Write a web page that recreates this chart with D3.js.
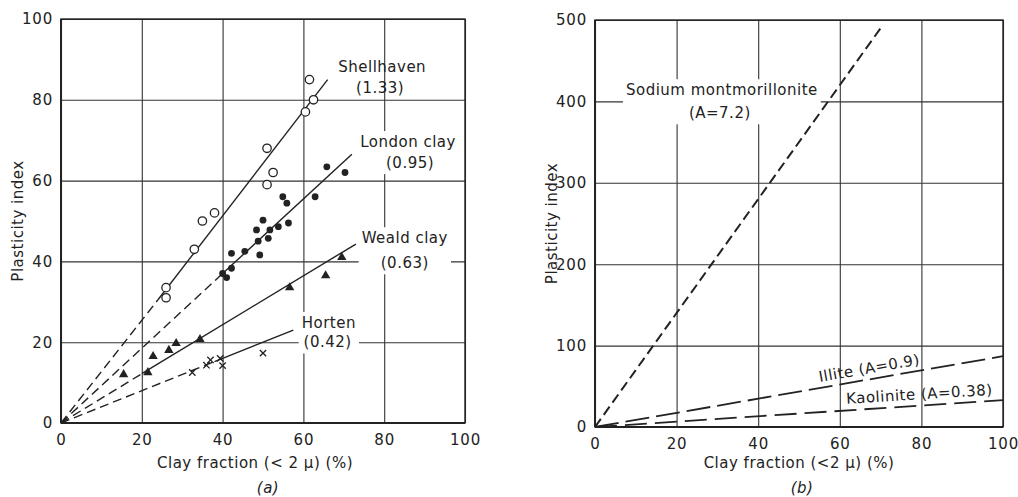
<!DOCTYPE html>
<html><head><meta charset="utf-8">
<script src="https://cdn.jsdelivr.net/npm/d3@7"></script>
<style>
html,body{margin:0;padding:0;background:#fff;}
svg{display:block;}
text{font-family:"DejaVu Sans",sans-serif;fill:#222;letter-spacing:0.5px;}
</style></head>
<body>
<svg id="chart" width="1018" height="497"></svg>
<script>
// ---------- DATA ----------
const gridTicksA = [0,20,40,60,80,100];
const yTicksA = [0,20,40,60,80,100];
const gridTicksB = [0,20,40,60,80,100];
const yTicksB = [0,100,200,300,400,500];

// panel (a) measured points [clay fraction %, plasticity index]
const shellhaven = [[26,31],[26,33.5],[33,43],[35,50],[38,52],[51,59],[52.5,62],[51,68],[60.5,77],[62.5,80],[61.5,85]];
const londonClay = [[40,37],[41,36],[42.2,38.3],[42.2,42],[45.5,42.5],[49.2,41.6],[48.8,45],[51.3,45.7],[48.4,47.8],[51.7,47.8],[53.8,48.6],[56.3,49.5],[50,50.2],[55.9,54.4],[54.9,56],[62.9,56],[65.8,63.4],[70.3,62]];
const wealdClay = [[15.5,12],[21.5,12.5],[22.8,16.5],[26.7,18],[28.5,19.7],[34.4,20.7],[56.6,33.5],[65.5,36.5],[69.5,41]];
const horten = [[32.5,12.5],[36,14.3],[37,15.6],[39.4,16],[40,14.2],[50,17.3]];

// panel (a) activity lines: dashed (extrapolated) and solid parts
const shellhavenDashed = [[0,0],[24,30.5]];
const shellhavenSolid = [[24,30.5],[66,85]];
const londonDashed = [[0,0],[40,37]];
const londonSolid = [[40,37],[72,66.5]];
const wealdDashed = [[0,0],[20,12.2]];
const wealdSolid = [[20,12.2],[73,44.3]];
const hortenDashed = [[0,0],[38,15.2]];
const hortenSolid = [[38,15.2],[57.5,23]];

// panel (b) activity lines
const montmorilloniteLine = [[0,0],[70,490]];
const illiteLine = [[0,0],[100,87]];
const kaoliniteLine = [[0,0],[100,33]];

// labels
const labelsA = [
  {lines:["Shellhaven","(1.33)"], pos:[[79.5,88.1],[79,82.9]], bg:false},
  {lines:["London clay","(0.95)"], pos:[[85.9,69.6],[86.4,64.4]], bg:true},
  {lines:["Weald clay","(0.63)"], pos:[[85.1,45.8],[85.1,39.6]], bg:true},
  {lines:["Horten","(0.42)"], pos:[[66.3,24.8],[66,20]], bg:true}
];
const labelsB = [
  {lines:["Sodium montmorillonite","(A=7.2)"], pos:[[31.1,414],[30.6,385.7]], bg:true, rot:0}
];
const lineLabelsB = [
  {text:"Illite (A=0.9)", pos:[67.2,72.5], rot:-10},
  {text:"Kaolinite (A=0.38)", pos:[79.5,40.5], rot:-3.5}
];
const xTitle = "Clay fraction (< 2 μ) (%)";
const xTitleB = "Clay fraction (<2 μ) (%)";
const yTitle = "Plasticity index";

// ---------- DRAW ----------
const svg = d3.select("#chart");
const ink = "#222";

function panel(cfg){
  const g = svg.append("g");
  const x = d3.scaleLinear().domain([0,100]).range(cfg.xr);
  const y = d3.scaleLinear().domain(cfg.yd).range(cfg.yr);
  const w = cfg.xr[1]-cfg.xr[0], h = cfg.yr[0]-cfg.yr[1];
  const gx = g.append("g").attr("transform",`translate(0,${cfg.yr[0]})`)
    .call(d3.axisBottom(x).tickValues(cfg.xt).tickSize(-h).tickPadding(11).tickFormat(d3.format("d")));
  const gy = g.append("g").attr("transform",`translate(${cfg.xr[0]},0)`)
    .call(d3.axisLeft(y).tickValues(cfg.yt).tickSize(-w).tickPadding(8).tickFormat(d3.format("d")));
  [gx,gy].forEach(a=>{
    a.select(".domain").remove();
    a.selectAll("line").attr("stroke","#333").attr("stroke-width",1.1);
    a.selectAll("text").attr("font-size",15).attr("fill",ink).style("font-family","DejaVu Sans").style("letter-spacing","0.8px");
  });
  g.append("rect").attr("x",cfg.xr[0]).attr("y",cfg.yr[1]).attr("width",w).attr("height",h)
    .attr("fill","none").attr("stroke",ink).attr("stroke-width",1.4);
  g.append("line").attr("x1",cfg.xr[0]).attr("x2",cfg.xr[0]).attr("y1",cfg.yr[1]).attr("y2",cfg.yr[0]).attr("stroke",ink).attr("stroke-width",2);
  g.append("line").attr("x1",cfg.xr[0]).attr("x2",cfg.xr[1]).attr("y1",cfg.yr[0]).attr("y2",cfg.yr[0]).attr("stroke",ink).attr("stroke-width",2);
  g.append("text").attr("x",(cfg.xr[0]+cfg.xr[1])/2 + cfg.titleDx).attr("y",468).attr("text-anchor","middle").attr("font-size",15).text(cfg.xTitle);
  g.append("text").attr("x",(cfg.xr[0]+cfg.xr[1])/2 + cfg.subDx).attr("y",493).attr("text-anchor","middle").attr("font-size",15).attr("font-style","italic").text(cfg.sub);
  g.append("text").attr("transform",`translate(${cfg.yTitleX},${(cfg.yr[0]+cfg.yr[1])/2})rotate(-90)`).attr("text-anchor","middle").attr("dy","0.35em").attr("font-size",15).text(yTitle);
  return {g,x,y};
}

const A = panel({xr:[61,465], yr:[423,19], yd:[0,100], xt:gridTicksA, yt:yTicksA, xTitle:xTitle, titleDx:-8, sub:"(a)", subDx:5, yTitleX:18});
const B = panel({xr:[595,1003], yr:[427,20], yd:[0,500], xt:gridTicksB, yt:yTicksB, xTitle:xTitleB, titleDx:0, sub:"(b)", subDx:3, yTitleX:552});

function addLabels(P, labels){
  labels.forEach(l=>{
    const lg = P.g.append("g");
    const rect = lg.append("rect").attr("fill","#fff");
    const ts = l.lines.map((s,i)=> lg.append("text")
      .attr("x",P.x(l.pos[i][0])).attr("y",P.y(l.pos[i][1])).attr("dy","0.35em")
      .attr("text-anchor","middle").attr("font-size",15).text(s));
    if(l.bg){
      let x0=1e9,y0=1e9,x1=-1e9,y1=-1e9;
      ts.forEach(t=>{const b=t.node().getBBox(); x0=Math.min(x0,b.x);y0=Math.min(y0,b.y);x1=Math.max(x1,b.x+b.width);y1=Math.max(y1,b.y+b.height);});
      rect.attr("x",x0-3).attr("y",y0-2).attr("width",x1-x0+6).attr("height",y1-y0+4);
    } else rect.remove();
  });
}

function drawLine(P, pts, dash, sw){
  P.g.append("path").datum(pts)
    .attr("d", d3.line().x(d=>P.x(d[0])).y(d=>P.y(d[1])))
    .attr("fill","none").attr("stroke",ink).attr("stroke-width",sw||1.4)
    .attr("stroke-dasharray", dash || null);
}

addLabels(A, labelsA);
addLabels(B, labelsB);

const dashA = "9,5";
drawLine(A, shellhavenDashed, dashA); drawLine(A, shellhavenSolid);
drawLine(A, londonDashed, dashA); drawLine(A, londonSolid);
drawLine(A, wealdDashed, dashA); drawLine(A, wealdSolid);
drawLine(A, hortenDashed, dashA); drawLine(A, hortenSolid);

A.g.append("g").selectAll("circle").data(shellhaven).join("circle")
  .attr("cx",d=>A.x(d[0])).attr("cy",d=>A.y(d[1])).attr("r",4.2)
  .attr("fill","#fff").attr("stroke",ink).attr("stroke-width",1.3);
A.g.append("g").selectAll("circle").data(londonClay).join("circle")
  .attr("cx",d=>A.x(d[0])).attr("cy",d=>A.y(d[1])).attr("r",3.4).attr("fill",ink);
A.g.append("g").selectAll("path").data(wealdClay).join("path")
  .attr("transform",d=>`translate(${A.x(d[0])},${A.y(d[1])})`)
  .attr("d",d3.symbol(d3.symbolTriangle,38)).attr("fill",ink);
A.g.append("g").selectAll("path").data(horten).join("path")
  .attr("transform",d=>`translate(${A.x(d[0])},${A.y(d[1])})`)
  .attr("d",d3.symbol(d3.symbolTimes,28)).attr("fill","none").attr("stroke",ink).attr("stroke-width",1.3);

drawLine(B, montmorilloniteLine, "10,5", 2);
drawLine(B, illiteLine, "24,7", 1.8);
drawLine(B, kaoliniteLine, "22,8", 1.8);

lineLabelsB.forEach(l=>{
  B.g.append("text").attr("transform",`translate(${B.x(l.pos[0])},${B.y(l.pos[1])})rotate(${l.rot})`)
    .attr("dy","0.35em").attr("text-anchor","middle").attr("font-size",15).text(l.text);
});
</script>
</body></html>
